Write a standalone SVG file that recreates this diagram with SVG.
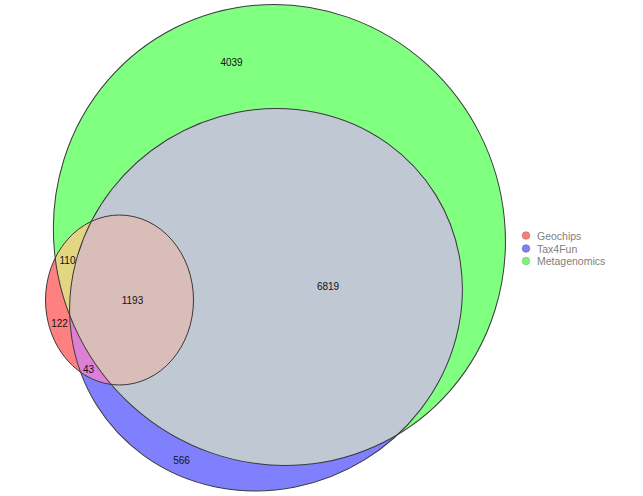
<svg xmlns="http://www.w3.org/2000/svg" width="643" height="496" viewBox="0 0 643 496">
<style>
.edge{fill:none;stroke:#3a3a3a;stroke-width:1}
.lbl{font-family:"Liberation Sans",Arial,sans-serif;font-size:10px;fill:#111;text-anchor:middle;dominant-baseline:central}
.leg{font-family:"Liberation Sans",Arial,sans-serif;font-size:10.5px;fill:#808080;dominant-baseline:central}
</style>
<defs>
<ellipse id="gShape" cx="279.4" cy="235" rx="232" ry="224.5" transform="rotate(63.3 279.4 235)"/>
<ellipse id="bShape" cx="266" cy="299.7" rx="199.5" ry="188" transform="rotate(-31.7 266 299.7)"/>
<ellipse id="rShape" cx="119.5" cy="300" rx="74" ry="85"/>
<clipPath id="cG"><use href="#gShape"/></clipPath>
<clipPath id="cB"><use href="#bShape"/></clipPath>
<clipPath id="cR"><use href="#rShape"/></clipPath>
</defs>
<rect width="643" height="496" fill="#ffffff"/>
<g id="fills">
<use href="#gShape" fill="#80ff80"/>
<use href="#bShape" fill="#8080ff"/>
<g clip-path="url(#cG)"><use href="#bShape" fill="#c0c9d3"/></g>
<use href="#rShape" fill="#ff8080"/>
<g clip-path="url(#cR)"><use href="#gShape" fill="#e2d683"/><use href="#bShape" fill="#dc80d6"/></g>
<g clip-path="url(#cR)"><g clip-path="url(#cG)"><use href="#bShape" fill="#d9bdb9"/></g></g>
</g>
<g id="Metagenomics"><use href="#gShape" class="edge"/></g>
<g id="Tax4Fun"><use href="#bShape" class="edge"/></g>
<g id="Geochips"><use href="#rShape" class="edge"/></g>
<g id="labels">
<text class="lbl" x="231.5" y="62.5">4039</text>
<text class="lbl" x="328" y="286">6819</text>
<text class="lbl" x="67.5" y="260">110</text>
<text class="lbl" x="132.5" y="300">1193</text>
<text class="lbl" x="59.5" y="323.5">122</text>
<text class="lbl" x="88.5" y="369.5">43</text>
<text class="lbl" x="181.5" y="460">566</text>
</g>
<g id="legend">
<circle cx="526" cy="235.5" r="3.8" fill="#f08080" stroke="#d06060" stroke-width="0.6"/>
<text class="leg" x="537" y="235.5">Geochips</text>
<circle cx="526" cy="248.5" r="3.8" fill="#8080f0" stroke="#6060d0" stroke-width="0.6"/>
<text class="leg" x="537" y="248.5">Tax4Fun</text>
<circle cx="526" cy="261" r="3.8" fill="#80f080" stroke="#60d060" stroke-width="0.6"/>
<text class="leg" x="537" y="261">Metagenomics</text>
</g>
</svg>
